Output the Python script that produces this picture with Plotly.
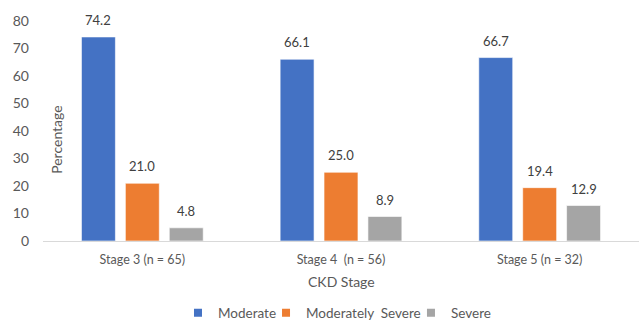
import plotly.graph_objects as go

# CKD stage groups and the share of patients (%) in each severity class
stages = ["Stage 3 (n = 65)", "Stage 4 \u00a0(n = 56)", "Stage 5 (n = 32)"]
moderate = [74.2, 66.1, 66.7]
moderately_severe = [21.0, 25.0, 19.4]
severe = [4.8, 8.9, 12.9]

series_names = ["Moderate", "Moderately \u00a0Severe", "Severe"]
series_values = [moderate, moderately_severe, severe]
series_colors = ["#4472C4", "#ED7D31", "#A5A5A5"]

y_ticks = [0, 10, 20, 30, 40, 50, 60, 70, 80]

FONT = "Lato, Calibri, 'Open Sans', sans-serif"
TEXT_GREY = "#595959"

# Horizontal legend entries, each in its own legend box so they can be spaced freely
legend_ids = ["legend", "legend2", "legend3"]
legend_x = [0.2265, 0.3742, 0.6174]

fig = go.Figure()
for name, vals, col, lid in zip(series_names, series_values, series_colors, legend_ids):
    fig.add_trace(go.Bar(
        x=stages, y=vals, name=name, showlegend=False,
        marker=dict(color=col, line=dict(color="rgba(255,255,255,0.6)", width=1)),
    ))
    # legend-only entry with a small square key
    fig.add_trace(go.Scatter(
        x=[None], y=[None], mode="markers", name=name, legend=lid,
        marker=dict(symbol="square", size=8, color=col),
    ))

# Value labels above each bar
slot = 44  # horizontal distance between neighbouring bars in a group (px)
annotations = []
for i, vals in enumerate(series_values):
    for stage, v in zip(stages, vals):
        annotations.append(dict(
            x=stage, y=v, xref="x", yref="y", text=f"{v:.1f}",
            showarrow=False, xshift=(i - 1) * slot, yshift=17,
            font=dict(family=FONT, size=13, color="#404040"),
        ))

# Y-axis title placed inside the plotting area, next to the axis
annotations.append(dict(
    x=0.0235, y=0.46, xref="paper", yref="paper", text="Percentage",
    textangle=-90, showarrow=False, xanchor="center", yanchor="middle",
    font=dict(family=FONT, size=14, color=TEXT_GREY),
))
# X-axis title
annotations.append(dict(
    x=0.5, y=-0.186, xref="paper", yref="paper", text="CKD Stage",
    showarrow=False, xanchor="center", yanchor="middle",
    font=dict(family=FONT, size=14, color=TEXT_GREY),
))

legend_common = dict(orientation="h", xanchor="left", y=-0.327, yanchor="middle",
                     font=dict(family=FONT, size=13.5, color=TEXT_GREY),
                     itemwidth=30, bgcolor="rgba(0,0,0,0)")

fig.update_layout(
    width=639, height=322,
    margin=dict(l=43, r=0, t=21, b=81, autoexpand=False),
    paper_bgcolor="white", plot_bgcolor="white",
    barmode="group", bargap=0.337, bargroupgap=0.227,
    font=dict(family=FONT, size=13, color=TEXT_GREY),
    showlegend=True,
    legend=dict(x=legend_x[0], **legend_common),
    legend2=dict(x=legend_x[1], **legend_common),
    legend3=dict(x=legend_x[2], **legend_common),
    annotations=annotations,
    xaxis=dict(
        automargin=False,
        showline=True, linecolor="#D9D9D9", linewidth=1,
        ticks="", showgrid=False, ticklabelstandoff=7,
        tickfont=dict(family=FONT, size=12.5, color=TEXT_GREY),
    ),
    yaxis=dict(
        automargin=False,
        range=[0, 80], tickvals=y_ticks, showgrid=False, zeroline=False,
        showline=False, ticks="", ticklabelstandoff=13,
        tickfont=dict(family=FONT, size=14, color=TEXT_GREY),
    ),
)

fig.write_html("out.html")
